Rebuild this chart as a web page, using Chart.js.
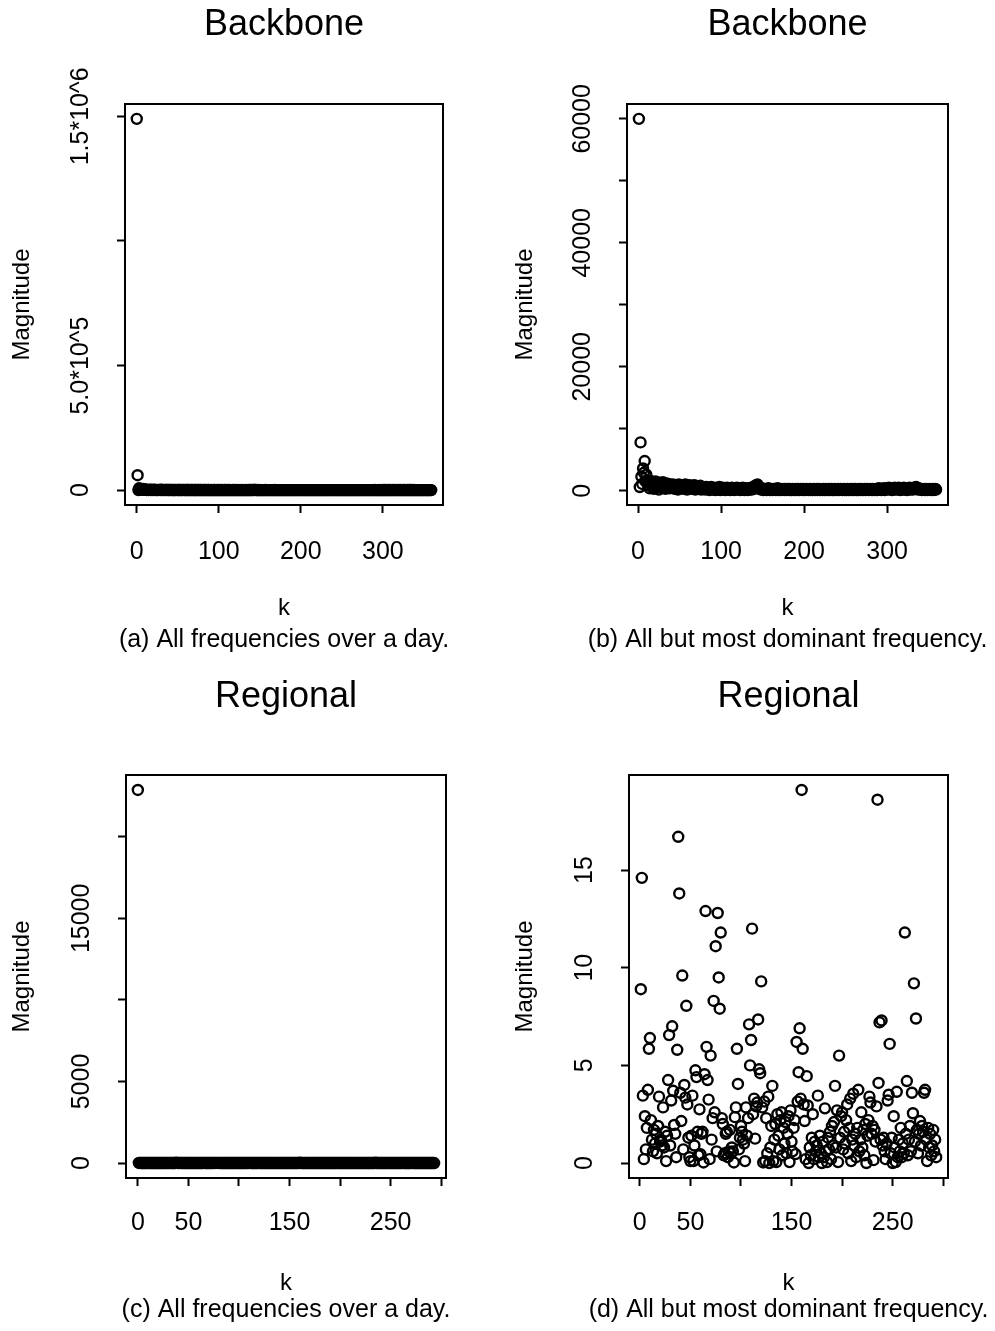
<!DOCTYPE html>
<html>
<head>
<meta charset="utf-8">
<title>Backbone / Regional</title>
<script src="https://cdn.jsdelivr.net/npm/chart.js@4.4.0/dist/chart.umd.min.js"></script>
<style>
html, body { margin: 0; padding: 0; background: #fff; }
body { width: 995px; height: 1331px; position: relative; overflow: hidden; }
canvas { position: absolute; }
</style>
</head>
<body>
<canvas id="chartA" width="497" height="665" style="left:0;top:0"></canvas>
<canvas id="chartB" width="498" height="665" style="left:497px;top:0"></canvas>
<canvas id="chartC" width="497" height="666" style="left:0;top:665px"></canvas>
<canvas id="chartD" width="498" height="666" style="left:497px;top:665px"></canvas>
<script>
// Backbone: dominant frequency and the rest (k = 1..359)
const bbDominant = 1490000;
const bbRest = [
60000, 600, 7800, 2300, 1100, 3600, 2900, 4800, 1500, 2600,
1700, 900, 1300, 400, 1600, 1100, 700, 1400, 300, 1000,
1500, 600, 1200, 900, 200, 1300, 800, 1100, 500, 1400,
700, 1000, 300, 1200, 900, 600, 1100, 400, 800, 900,
500, 1000, 700, 300, 900, 600, 800, 200, 1000, 700,
400, 900, 600, 800, 300, 700, 1000, 500, 200, 800,
600, 900, 400, 700, 300, 800, 500, 900, 200, 600,
400, 700, 300, 500, 800, 200, 600, 400, 300, 500,
200, 600, 400, 300, 500, 100, 400, 600, 300, 200,
500, 300, 100, 400, 500, 200, 300, 600, 100, 400,
300, 500, 200, 400, 100, 300, 500, 200, 400, 300,
100, 400, 500, 200, 300, 100, 400, 300, 500, 200,
300, 400, 100, 300, 200, 500, 300, 100, 400, 200,
300, 100, 400, 200, 300, 500, 200, 400, 600, 300,
700, 900, 800, 1000, 600, 500, 300, 200, 400, 300,
100, 300, 200, 300, 100, 200, 400, 200, 100, 300,
200, 100, 300, 200, 300, 100, 200, 400, 100, 200,
300, 100, 200, 300, 200, 100, 300, 200, 100, 300,
200, 300, 100, 200, 100, 300, 200, 100, 200, 300,
100, 200, 300, 100, 200, 300, 200, 100, 300, 200,
100, 200, 300, 200, 100, 200, 300, 100, 200, 100,
300, 200, 100, 200, 300, 100, 200, 300, 100, 200,
200, 100, 300, 200, 100, 300, 200, 100, 200, 300,
100, 200, 300, 100, 200, 100, 300, 200, 100, 200,
300, 100, 200, 300, 200, 100, 200, 300, 100, 200,
100, 300, 200, 100, 200, 300, 100, 200, 300, 100,
200, 300, 100, 200, 100, 300, 200, 100, 300, 200,
100, 200, 300, 100, 200, 300, 200, 100, 200, 300,
200, 100, 300, 200, 100, 200, 300, 100, 200, 400,
200, 300, 100, 300, 200, 400, 100, 300, 200, 400,
300, 500, 200, 400, 300, 100, 400, 300, 500, 200,
300, 400, 200, 500, 300, 100, 400, 200, 300, 500,
200, 400, 300, 100, 400, 300, 500, 200, 300, 400,
200, 500, 300, 400, 600, 300, 200, 400, 300, 200,
300, 100, 200, 300, 200, 100, 300, 200, 100, 200,
300, 200, 100, 200, 300, 100, 200, 300, 200
];

// Regional: dominant frequency and the rest (k = 1..293)
const rgDominant = 22870;
const rgRest = [
8.9, 14.6, 3.45, 0.2, 2.4, 0.7, 1.8, 3.75, 5.85, 6.4,
2.2, 1.2, 0.6, 1.7, 1.0, 1.5, 0.5, 1.9, 3.4, 1.1,
1.2, 0.9, 2.85, 0.8, 1.6, 0.1, 1.4, 4.25, 6.55, 0.9,
3.2, 7.0, 3.7, 1.95, 1.5, 0.3, 5.8, 16.7, 13.8, 3.6,
2.15, 9.6, 0.7, 4.0, 3.35, 8.05, 3.0, 1.3, 0.3, 0.1,
1.4, 3.45, 0.1, 0.9, 4.75, 4.4, 1.6, 0.4, 2.75, 0.45,
1.5, 1.6, 0.03, 4.55, 12.9, 5.95, 4.25, 3.25, 0.2, 5.5,
1.2, 2.3, 8.3, 2.6, 11.1, 0.6, 12.8, 9.5, 7.9, 11.8,
2.3, 2.0, 0.4, 0.5, 1.5, 1.6, 0.3, 0.6, 1.7, 0.5,
0.8, 0.6, 0.03, 2.35, 2.85, 5.85, 4.05, 0.7, 1.3, 1.9,
1.6, 1.2, 1.0, 0.1, 2.85, 1.4, 2.3, 7.1, 5.0, 6.3,
12.0, 2.5, 3.3, 1.25, 2.9, 3.1, 7.35, 4.8, 4.6, 9.3,
2.85, 0.03, 3.15, 0.1, 2.3, 0.5, 3.4, 0.0, 0.8, 1.9,
3.95, 0.1, 1.2, 2.0, 0.05, 2.5, 1.4, 0.7, 2.2, 2.6,
0.4, 1.8, 1.0, 2.1, 0.5, 1.5, 2.4, 0.05, 2.7, 1.1,
0.6, 1.8, 2.2, 0.46, 6.2, 3.15, 4.65, 6.9, 3.3, 19.1,
5.85, 3.0, 2.15, 0.2, 4.45, 2.95, 0.0, 0.8, 0.4, 1.3,
2.5, 0.2, 1.1, 0.6, 0.9, 3.45, 0.3, 1.4, 0.5, 0.0,
1.1, 0.3, 2.8, 0.6, 0.05, 1.3, 0.7, 1.6, 0.2, 1.9,
0.9, 2.1, 3.95, 0.8, 2.7, 0.05, 5.5, 1.3, 2.4, 2.6,
0.7, 1.6, 1.0, 2.2, 3.0, 0.5, 1.8, 3.3, 0.1, 1.2,
3.55, 0.9, 1.5, 0.3, 1.8, 3.75, 0.6, 1.2, 2.6, 0.8,
1.7, 0.4, 2.0, 0.0, 1.4, 2.2, 3.4, 3.1, 1.5, 1.9,
0.15, 1.7, 1.1, 2.9, 18.6, 4.1, 7.2, 1.2, 7.3, 0.9,
1.3, 0.6, 0.2, 1.0, 3.2, 3.5, 6.1, 0.5, 1.3, 0.0,
2.4, 0.8, 0.05, 3.65, 0.3, 1.2, 0.6, 1.8, 0.3, 1.0,
0.5, 11.8, 1.5, 4.2, 0.4, 1.2, 1.9, 0.6, 3.6, 2.55,
9.2, 1.1, 7.4, 1.7, 0.5, 1.5, 2.15, 0.9, 1.9, 1.6,
3.6, 3.75, 1.2, 0.1, 1.8, 0.8, 1.5, 0.4, 0.9, 1.7,
0.6, 1.2, 0.3
];

const bbAll = [bbDominant].concat(bbRest);
const rgAll = [rgDominant].concat(rgRest);

// tick values and labels (R drops labels that would overlap)
const bbAllYTicks = [0, 500000, 1000000, 1500000];
const bbAllYLabels = ["0", "5.0*10^5", "", "1.5*10^6"];
const bbRestYTicks = [0, 10000, 20000, 30000, 40000, 50000, 60000];
const bbRestYLabels = ["0", "", "20000", "", "40000", "", "60000"];
const rgAllYTicks = [0, 5000, 10000, 15000, 20000];
const rgAllYLabels = ["0", "5000", "", "15000", ""];
const rgRestYTicks = [0, 5, 10, 15];
const rgRestYLabels = ["0", "5", "10", "15"];
const bbXTicks = [0, 100, 200, 300];
const bbXLabels = ["0", "100", "200", "300"];
const rgXTicks = [0, 50, 100, 150, 200, 250, 300];
const rgXLabels = ["0", "50", "", "150", "", "250", ""];

const FONT = "'Liberation Sans', Arial, Helvetica, sans-serif";
Chart.defaults.font.family = FONT;
Chart.defaults.color = "#000";

// R style axis range: data range widened by 4% each side
function rRange(vals) {
  let lo = Math.min(...vals), hi = Math.max(...vals);
  let d = (hi - lo) * 0.04;
  return [lo - d, hi + d];
}

// rotated y tick labels, plot box and caption
const frame = {
  id: "frame",
  afterDraw(chart, args, opts) {
    const {ctx, chartArea} = chart;
    const ys = chart.scales.y;
    ctx.save();
    ctx.fillStyle = "#000";
    ctx.font = "25px " + FONT;
    ctx.textAlign = "center";
    ctx.textBaseline = "middle";
    opts.ticks.forEach((v, i) => {
      if (!opts.labels[i]) return;
      ctx.save();
      ctx.translate(chartArea.left - 44, ys.getPixelForValue(v));
      ctx.rotate(-Math.PI / 2);
      ctx.fillText(opts.labels[i], 0, 0);
      ctx.restore();
    });
    ctx.fillText(opts.caption, (chartArea.left + chartArea.right) / 2, opts.captionY);
    ctx.lineWidth = 2;
    ctx.strokeStyle = "#000";
    ctx.strokeRect(chartArea.left, chartArea.top,
      chartArea.right - chartArea.left, chartArea.bottom - chartArea.top);
    ctx.restore();
  }
};

const rows = {
  top: {titlePad: {top: 3.4, bottom: 57.4}, xHeight: 117, tickPad: 24, kPad: 2, padBottom: 43, captionY: 640},
  bottom: {titlePad: {top: 10.4, bottom: 56.4}, xHeight: 119, tickPad: 22, kPad: 2, padBottom: 34, captionY: 645}
};

function makePanel(p) {
  const row = rows[p.row];
  const pts = p.values.map((v, i) => ({x: p.kStart + i, y: v}));
  const xr = rRange([p.kStart, p.kStart + p.values.length - 1]);
  const yr = rRange(p.values);
  const axisGrid = {
    display: true, drawOnChartArea: false, drawTicks: true,
    tickLength: 8, tickWidth: 2, tickColor: "#000", color: "#000"
  };

  new Chart(document.getElementById(p.id), {
    type: "scatter",
    data: {
      datasets: [{
        data: pts,
        pointStyle: "circle",
        pointRadius: 5,
        pointBorderWidth: 2.4,
        pointBorderColor: "#000",
        pointBackgroundColor: "rgba(0,0,0,0)",
        clip: false
      }]
    },
    options: {
      responsive: false,
      animation: false,
      events: [],
      layout: {padding: {left: 0, top: 0, bottom: row.padBottom, right: p.padRight}},
      plugins: {
        legend: {display: false},
        tooltip: {enabled: false},
        title: {
          display: true, text: p.title, fullSize: false,
          color: "#000",
          font: {size: 36, weight: "normal", lineHeight: 1.2},
          padding: row.titlePad
        },
        frame: {ticks: p.yTicks, labels: p.yLabels, caption: p.caption, captionY: row.captionY}
      },
      scales: {
        x: {
          type: "linear", min: xr[0], max: xr[1],
          grid: axisGrid,
          border: {display: false},
          ticks: {
            autoSkip: false, maxRotation: 0, padding: row.tickPad,
            font: {size: 25, lineHeight: 1.2}, color: "#000",
            callback: (v, i) => p.xLabels[i]
          },
          afterBuildTicks: s => { s.ticks = p.xTicks.map(v => ({value: v})); },
          afterFit: s => { s.height = row.xHeight; },
          title: {
            display: true, text: "k", color: "#000",
            font: {size: 24, lineHeight: 1},
            padding: {top: 0, bottom: row.kPad}
          }
        },
        y: {
          type: "linear", min: yr[0], max: yr[1],
          grid: axisGrid,
          border: {display: false},
          ticks: {callback: () => ""},
          afterBuildTicks: s => { s.ticks = p.yTicks.map(v => ({value: v})); },
          afterFit: s => { s.width = p.boxLeft; },
          title: {
            display: true, text: "Magnitude", color: "#000",
            font: {size: 24, lineHeight: 1},
            padding: {top: p.yTitlePad, bottom: 0}
          }
        }
      }
    },
    plugins: [frame]
  });
}

makePanel({id: "chartA", row: "top", title: "Backbone", caption: "(a) All frequencies over a day.",
  values: bbAll, kStart: 0, xTicks: bbXTicks, xLabels: bbXLabels,
  yTicks: bbAllYTicks, yLabels: bbAllYLabels, boxLeft: 125, padRight: 54, yTitlePad: 10});

makePanel({id: "chartB", row: "top", title: "Backbone", caption: "(b) All but most dominant frequency.",
  values: bbRest, kStart: 1, xTicks: bbXTicks, xLabels: bbXLabels,
  yTicks: bbRestYTicks, yLabels: bbRestYLabels, boxLeft: 130, padRight: 47, yTitlePad: 16});

makePanel({id: "chartC", row: "bottom", title: "Regional", caption: "(c) All frequencies over a day.",
  values: rgAll, kStart: 0, xTicks: rgXTicks, xLabels: rgXLabels,
  yTicks: rgAllYTicks, yLabels: rgAllYLabels, boxLeft: 126, padRight: 51, yTitlePad: 10});

makePanel({id: "chartD", row: "bottom", title: "Regional", caption: "(d) All but most dominant frequency.",
  values: rgRest, kStart: 1, xTicks: rgXTicks, xLabels: rgXLabels,
  yTicks: rgRestYTicks, yLabels: rgRestYLabels, boxLeft: 132, padRight: 47, yTitlePad: 16});
</script>
</body>
</html>
